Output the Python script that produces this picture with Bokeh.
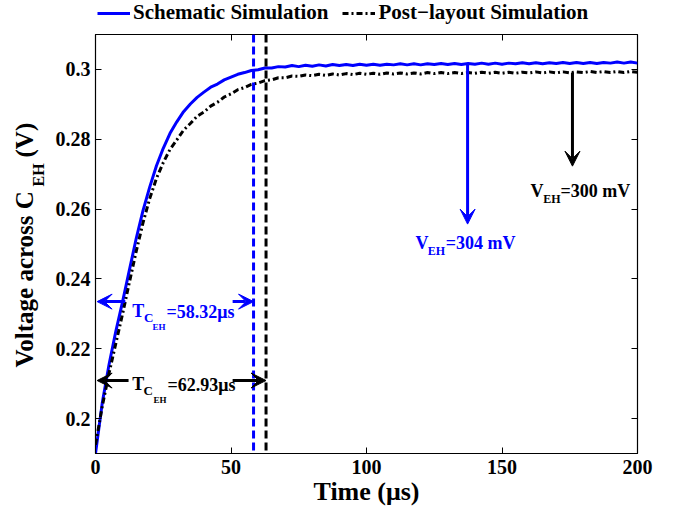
import numpy as np
from bokeh.plotting import figure
from bokeh.layouts import row, column
from bokeh.models import (ColumnDataSource, Legend, LegendItem, Label, Arrow,
                          VeeHead, FixedTicker, LinearAxis, Span)
from bokeh.core.properties import value
from bokeh.embed import file_html
from bokeh.resources import INLINE

# ---- data -------------------------------------------------------------
time_us = [2.5 * i for i in range(81)]  # 0 .. 200 us, 2.5 us step

schematic_v = [
    0.1900, 0.2045, 0.2155, 0.2250, 0.2335, 0.2425, 0.2515, 0.2595, 0.2663, 0.2724,
    0.2774, 0.2817, 0.2850, 0.2879, 0.2901, 0.2920, 0.2935, 0.2949, 0.2958, 0.2970,
    0.2978, 0.2986, 0.2991, 0.2997, 0.2999, 0.3004, 0.3004, 0.3008, 0.3007, 0.3011,
    0.3008, 0.3012, 0.3009, 0.3013, 0.3010, 0.3014, 0.3011, 0.3014, 0.3011, 0.3015,
    0.3012,
    0.3015, 0.3012, 0.3015, 0.3013, 0.3016, 0.3013, 0.3016, 0.3013, 0.3016, 0.3014,
    0.3017, 0.3014, 0.3017, 0.3014, 0.3017, 0.3015, 0.3018, 0.3015, 0.3018, 0.3015,
    0.3018, 0.3016, 0.3019, 0.3016, 0.3019, 0.3016, 0.3019, 0.3017, 0.3020, 0.3017,
    0.3020, 0.3017, 0.3020, 0.3017, 0.3020, 0.3018, 0.3021, 0.3018, 0.3021, 0.3018,
]

post_layout_v = [
    0.1925, 0.2035, 0.2130, 0.2215, 0.2300, 0.2390, 0.2478, 0.2560, 0.2630, 0.2688,
    0.2733, 0.2771, 0.2798, 0.2826, 0.2845, 0.2866, 0.2878, 0.2895, 0.2906, 0.2921,
    0.2930, 0.2942, 0.2948, 0.2957, 0.2961, 0.2968, 0.2970, 0.2976, 0.2976, 0.2981,
    0.2980, 0.2984, 0.2982, 0.2986, 0.2983, 0.2987, 0.2984, 0.2988, 0.2985, 0.2989,
    0.2986,
    0.2989, 0.2986, 0.2990, 0.2987, 0.2990, 0.2987, 0.2990, 0.2987, 0.2991, 0.2988,
    0.2991, 0.2988, 0.2991, 0.2988, 0.2991, 0.2989, 0.2992, 0.2989, 0.2992, 0.2989,
    0.2992, 0.2989, 0.2992, 0.2990, 0.2993, 0.2990, 0.2993, 0.2990, 0.2993, 0.2990,
    0.2993, 0.2991, 0.2994, 0.2991, 0.2994, 0.2991, 0.2994, 0.2991, 0.2994, 0.2992,
]

series_names = ["Schematic Simulation", "Post\u2212layout Simulation"]

# settling times (us) and final voltages (mV)
t_settle_schematic = 58.32
t_settle_post = 62.93
v_final_schematic_mv = 304
v_final_post_mv = 300

x_ticks = [0, 50, 100, 150, 200]
y_ticks = [0.2, 0.22, 0.24, 0.26, 0.28, 0.3]
y_tick_labels = ["0.2", "0.22", "0.24", "0.26", "0.28", "0.3"]

# ---- styling ----------------------------------------------------------
FONT = "Liberation Serif"
BLUE = "#0000ff"
BLACK = "#000000"
SCH_STYLE = dict(line_color=BLUE, line_width=3)
POST_STYLE = dict(line_color=BLACK, line_width=3, line_dash="6 3 2 3")

TOTAL_W = 673
FRAME_W, FRAME_H = 542, 419
STRIP_H = 26          # legend strip above the plot
TOP, BOTTOM = 8, 55   # plot borders below the strip
SIDE_W = 50           # y-title strip left of the plot

p = figure(frame_width=FRAME_W, frame_height=FRAME_H,
           x_range=(0, 200), y_range=(0.19, 0.31),
           output_backend="svg", toolbar_location=None,
           min_border_left=95 - SIDE_W, min_border_right=36,
           min_border_top=TOP, min_border_bottom=BOTTOM)
p.background_fill_color = "white"
p.border_fill_color = "white"
p.outline_line_color = BLACK
p.outline_line_width = 1.2
p.xgrid.visible = False
p.ygrid.visible = False

for ax in (p.xaxis[0], p.yaxis[0]):
    ax.major_tick_in = 6
    ax.major_tick_out = 0
    ax.minor_tick_line_color = None
    ax.axis_line_color = BLACK
    ax.major_tick_line_color = BLACK
    ax.major_label_text_font = FONT
    ax.major_label_text_font_style = "bold"
    ax.major_label_text_font_size = "20px"
    ax.major_label_text_color = BLACK

p.xaxis.ticker = FixedTicker(ticks=x_ticks)
p.yaxis.ticker = FixedTicker(ticks=y_ticks)
p.yaxis.major_label_overrides = {t: s for t, s in zip(y_ticks, y_tick_labels)}
p.xaxis.major_label_standoff = 6
p.yaxis.major_label_standoff = 5

p.xaxis.axis_label = "Time (\u03bcs)"
p.xaxis.axis_label_text_font = FONT
p.xaxis.axis_label_text_font_style = "bold"
p.xaxis.axis_label_text_font_size = "26px"
p.xaxis.axis_label_text_color = BLACK
p.xaxis.axis_label_standoff = 0

# mirrored ticks on the right and top edges
for side_name, ticks in (("right", y_ticks), ("above", x_ticks)):
    ax = LinearAxis(ticker=FixedTicker(ticks=ticks), major_tick_in=6,
                    major_tick_out=0, minor_tick_line_color=None,
                    major_label_text_font_size="1px", major_label_text_alpha=0,
                    major_label_standoff=0, axis_line_color=None)
    p.add_layout(ax, side_name)

# ---- curves -----------------------------------------------------------
src = ColumnDataSource(dict(t=time_us, sch=schematic_v, post=post_layout_v))
p.line("t", "sch", source=src, **SCH_STYLE)
p.line("t", "post", source=src, **POST_STYLE)

# settling-time markers
p.add_layout(Span(location=t_settle_schematic, dimension="height",
                  line_color=BLUE, line_width=3, line_dash="8 4"))
p.add_layout(Span(location=t_settle_post, dimension="height",
                  line_color=BLACK, line_width=3, line_dash="8 4"))


def text(x, y, s, size, color, **kw):
    p.add_layout(Label(x=x, y=y, text=s, text_font=FONT, text_font_style="bold",
                       text_font_size=f"{size}px", text_color=color,
                       text_baseline="alphabetic", text_align="left", **kw))


def arrow(x0, y0, x1, y1, color):
    p.add_layout(Arrow(x_start=x0, y_start=y0, x_end=x1, y_end=y1,
                       line_color=color, line_width=3,
                       end=VeeHead(size=15, fill_color=color, line_color=color,
                                   line_width=1)))


# T_CEH annotations (schematic in blue, post-layout in black)
y_arrow_sch = 0.2335
arrow(11.0, y_arrow_sch, 0.6, y_arrow_sch, BLUE)
arrow(50.6, y_arrow_sch, t_settle_schematic, y_arrow_sch, BLUE)
text(13.6, 0.2309, "T", 18, BLUE)
text(17.9, 0.2289, "C", 13, BLUE)
text(21.0, 0.2261, "EH", 9, BLUE)
text(26.2, 0.2304, f"={t_settle_schematic:.2f}\u03bcs", 18, BLUE)

y_arrow_post = 0.2109
arrow(12.2, y_arrow_post, 0.6, y_arrow_post, BLACK)
arrow(50.6, y_arrow_post, t_settle_post, y_arrow_post, BLACK)
text(13.6, 0.2100, "T", 18, BLACK)
text(17.7, 0.2080, "C", 13, BLACK)
text(21.4, 0.2052, "EH", 9, BLACK)
text(26.6, 0.2095, f"={t_settle_post:.2f}\u03bcs", 18, BLACK)

# final-voltage pointers
t_ptr_sch, t_ptr_post = 137.3, 176.0
arrow(t_ptr_sch, float(np.interp(t_ptr_sch, time_us, schematic_v)),
      t_ptr_sch, 0.2557, BLUE)
arrow(t_ptr_post, float(np.interp(t_ptr_post, time_us, post_layout_v)),
      t_ptr_post, 0.2723, BLACK)

text(118.1, 0.2503, "V", 18, BLUE)
text(122.6, 0.2480, "EH", 12, BLUE)
text(129.2, 0.2503, f"={v_final_schematic_mv} mV", 18, BLUE)

text(160.5, 0.2651, "V", 18, BLACK)
text(165.2, 0.2628, "EH", 12, BLACK)
text(171.6, 0.2651, f"={v_final_post_mv} mV", 18, BLACK)

# ---- legend strip above the plot --------------------------------------
# the strip draws the same series, but its ranges keep them out of view;
# only the legend keys show
strip = figure(frame_width=TOTAL_W, frame_height=STRIP_H,
               x_range=(-2, -1), y_range=(-2, -1),
               output_backend="svg", toolbar_location=None,
               min_border_left=0, min_border_right=0,
               min_border_top=0, min_border_bottom=0)
strip.axis.visible = False
strip.grid.visible = False
strip.outline_line_color = None
strip.background_fill_color = "white"
strip.border_fill_color = "white"
key_sch = strip.line("t", "sch", source=src, **SCH_STYLE)
key_post = strip.line("t", "post", source=src, **POST_STYLE)
legend = Legend(items=[LegendItem(label=series_names[0], renderers=[key_sch]),
                       LegendItem(label=series_names[1], renderers=[key_post])],
                orientation="horizontal", location=(97, 1),
                border_line_color=None, background_fill_alpha=0,
                label_text_font=FONT, label_text_font_style="bold",
                label_text_font_size="21px", label_text_color=BLACK,
                glyph_width=33, glyph_height=18,
                label_standoff=3, spacing=14, padding=0, margin=0)
strip.add_layout(legend, "center")

# ---- y-axis title strip (pixel coordinates, origin at frame bottom) ---
side = figure(frame_width=SIDE_W, frame_height=FRAME_H,
              x_range=(0, SIDE_W), y_range=(0, FRAME_H),
              output_backend="svg", toolbar_location=None,
              min_border_left=0, min_border_right=0,
              min_border_top=TOP, min_border_bottom=BOTTOM)
side.axis.visible = False
side.grid.visible = False
side.outline_line_color = None
side.background_fill_color = "white"
side.border_fill_color = "white"

ylab_main = ColumnDataSource(dict(x=[24, 24], y=[86, 296],
                                  s=["Voltage across C", "(V)"]))
side.text("x", "y", text="s", source=ylab_main, angle=np.pi / 2,
          text_font=value(FONT), text_font_style="bold", text_font_size="25px",
          text_color=BLACK, text_baseline="alphabetic", text_align="left")
side.text(x=[38], y=[267], text=["EH"], angle=np.pi / 2,
          text_font=value(FONT), text_font_style="bold", text_font_size="16px",
          text_color=BLACK, text_baseline="alphabetic", text_align="left")

layout = column(strip, row(side, p, spacing=0), spacing=0)

open("out.html", "w").write(file_html(layout, INLINE))
